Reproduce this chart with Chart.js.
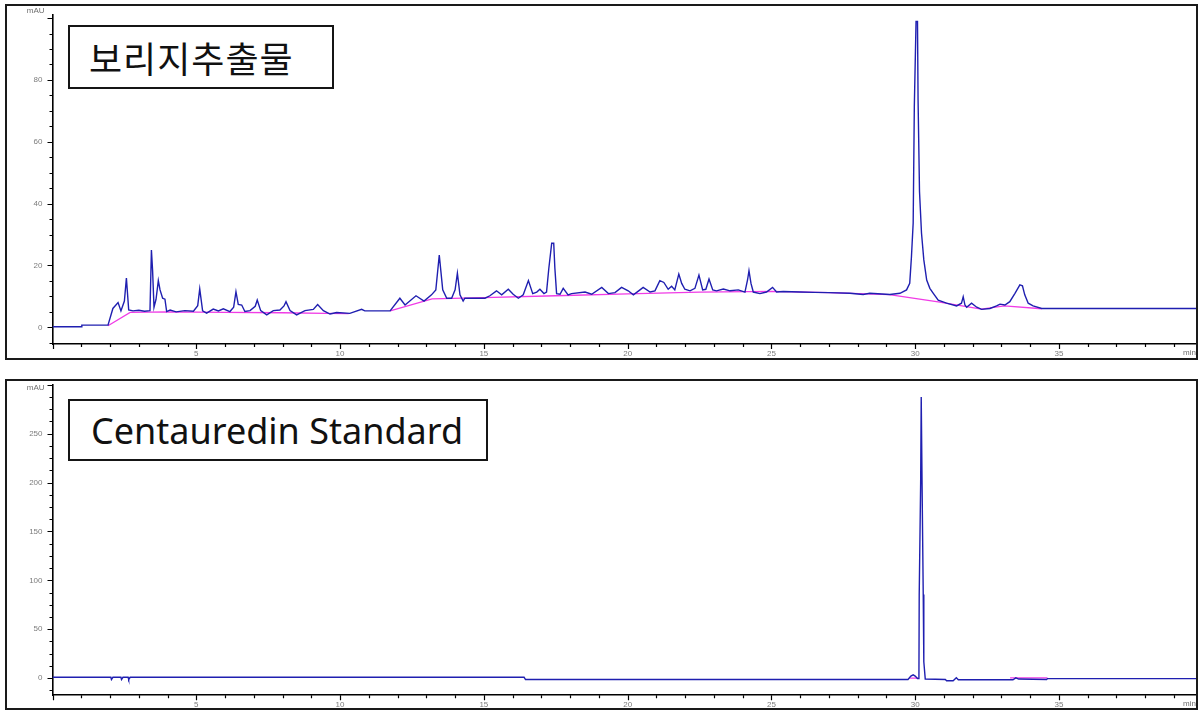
<!DOCTYPE html>
<html lang="ko">
<head>
<meta charset="utf-8">
<title>보리지추출물 / Centauredin Standard</title>
<script src="https://cdn.jsdelivr.net/npm/chart.js@4.4.1/dist/chart.umd.min.js"></script>
<style>
  html, body { margin: 0; padding: 0; background: #fff; }
  #wrap { position: relative; width: 1200px; height: 710px; overflow: hidden; }
  canvas { position: absolute; left: 0; }
  #c1 { top: 0; }
  #c2 { top: 370px; }
  .tag {
    position: absolute; box-sizing: border-box; background: #fff;
    border: 2px solid #151515; color: #111; display: flex; align-items: center;
    white-space: nowrap; z-index: 2;
  }
  #tag1 { left: 68px; top: 25px; width: 266px; height: 64px; padding-left: 19px;
          font: 36px "Noto Sans CJK KR", "Noto Sans", sans-serif; letter-spacing: 1px; }
  #tag2 { left: 68px; top: 399px; width: 420px; height: 62px; padding-left: 21px;
          font: 36px "Noto Sans", "Noto Sans CJK KR", sans-serif; }
</style>
</head>
<body>
<div id="wrap">
  <canvas id="c1" width="1200" height="370"></canvas>
  <canvas id="c2" width="1200" height="340"></canvas>
  <div class="tag" id="tag1">보리지추출물</div>
  <div class="tag" id="tag2">Centauredin Standard</div>
</div>
<script>
// ---- Extract chromatogram (retention time in min, absorbance in mAU) ----
const extractTime = [
  0, 1.0, 1.02, 1.93, 2.1, 2.28, 2.38, 2.5, 2.57, 2.65, 2.8, 3.0, 3.2, 3.39,
  3.44, 3.48, 3.53, 3.6, 3.68, 3.74, 3.83, 3.91, 3.97, 4.09, 4.3, 4.6, 4.9,
  5.05, 5.12, 5.22, 5.36, 5.59, 5.77, 5.94, 6.17, 6.3, 6.38, 6.46, 6.58, 6.69,
  6.87, 7.05, 7.12, 7.24, 7.45, 7.68, 7.91, 8.05, 8.12, 8.26, 8.49, 8.78, 9.07,
  9.22, 9.42, 9.65, 9.88, 10.34, 10.75, 10.86, 11.74, 12.08, 12.26, 12.64,
  12.92, 13.18, 13.33, 13.45, 13.57, 13.71, 13.88, 14.0, 14.08, 14.17, 14.28,
  14.34, 15.04, 15.21, 15.44, 15.62, 15.85, 16.02, 16.2, 16.37, 16.55, 16.7,
  16.84, 16.95, 17.09, 17.18, 17.26, 17.36, 17.43, 17.47, 17.53, 17.65, 17.76,
  17.93, 18.05, 18.52, 18.75, 19.1, 19.33, 19.56, 19.79, 20.02, 20.2, 20.43,
  20.54, 20.78, 20.95, 21.12, 21.26, 21.41, 21.53, 21.64, 21.78, 21.88, 21.99,
  22.17, 22.34, 22.48, 22.61, 22.72, 22.83, 22.96, 23.09, 23.33, 23.56, 23.85,
  24.08, 24.17, 24.22, 24.29, 24.37, 24.6, 24.83, 25.04, 25.18, 25.41, 25.99,
  26.5, 27.0, 27.73, 28.19, 28.42, 29.12, 29.47, 29.7, 29.81, 29.87, 29.93,
  29.97, 30.03, 30.08, 30.1, 30.15, 30.22, 30.3, 30.4, 30.51, 30.63, 30.8,
  31.09, 31.44, 31.61, 31.67, 31.73, 31.79, 31.96, 32.14, 32.31, 32.6, 32.83,
  32.95, 33.12, 33.29, 33.47, 33.64, 33.73, 33.81, 33.93, 34.1, 34.4, 39.8
];
const extractAbs = [
  0.2, 0.2, 0.7, 0.7, 6.1, 8.0, 5.3, 8.5, 15.9, 5.6, 5.3, 5.5, 5.2, 5.4,
  25.0, 18.5, 6.5, 9.0, 15.1, 12.1, 9.4, 9.1, 5.1, 5.6, 5.0, 5.4, 5.2,
  7.0, 12.4, 5.3, 4.6, 5.9, 5.3, 6.0, 5.1, 6.5, 11.5, 7.4, 7.2, 5.1,
  5.4, 6.8, 8.8, 5.4, 4.0, 5.4, 5.6, 6.9, 8.3, 5.4, 4.0, 5.4, 5.8,
  7.4, 5.4, 4.3, 4.8, 4.5, 5.8, 5.3, 5.3, 9.4, 7.2, 10.2,
  8.5, 10.5, 12.1, 23.4, 12.1, 9.4, 9.4, 12.1, 17.5, 10.5, 8.5,
  9.4, 9.4, 10.2, 11.8, 10.5, 12.3, 10.7, 9.4, 10.5, 15.1, 10.9,
  11.4, 12.3, 10.9, 11.4, 19.1, 27.2, 27.2, 19.1, 10.9, 10.7, 12.6,
  10.5, 10.9, 11.4, 10.7, 12.9, 10.9, 11.2, 12.9, 11.8, 10.5, 12.1,
  12.9, 11.4, 11.8, 15.1, 14.5, 12.3, 13.3, 12.1, 17.2, 14.2, 12.3,
  11.8, 12.6, 16.9, 12.1, 12.3, 15.6, 12.1, 11.8, 12.4, 11.8, 12.1,
  11.4, 15.3, 18.3, 14.2, 11.4, 10.9, 11.4, 12.9, 11.4, 11.6, 11.4,
  11.3, 11.2, 11.0, 10.6, 11.0, 10.6, 11.0, 12.1, 14.2, 22.8, 33.7,
  71.4, 98.9, 98.9, 73.6, 43.9, 30.4, 21.8, 15.3, 12.6, 11.0, 8.8,
  7.8, 6.9, 7.8, 9.9, 7.2, 6.5, 7.8, 6.5, 5.8, 6.1, 6.9,
  7.5, 7.2, 8.3, 11.0, 13.7, 13.4, 10.5, 7.8, 6.9, 6.1, 6.1
];
// integration baseline of the extract run (null = no baseline drawn)
const extractBaseTime = [1.93, 2.7, 4.0, 6.0, 8.0, 9.5, 10.3, 10.31, 11.74, 13.2, 15.0, 17.5, 20.0, 22.5, 25.0, 27.0, 29.1, 30.8, 32.3, 33.1, 34.4];
const extractBaseAbs  = [0.5, 4.8, 5.0, 4.8, 4.7, 4.5, 4.4, null, 5.3, 9.2, 9.6, 10.2, 10.8, 11.4, 11.6, 11.2, 10.6, 8.2, 5.9, 6.9, 6.0];

// ---- Centauredin standard chromatogram ----
const standardTime = [
  0, 2.03, 2.05, 2.1, 2.38, 2.4, 2.45, 2.63, 2.65, 2.7, 16.4, 16.45,
  29.75, 29.85, 29.93, 30.0, 30.08, 30.13, 30.14, 30.19, 30.21, 30.24, 30.28,
  30.3, 30.35, 31.05, 31.09, 31.32, 31.43, 31.5, 33.4, 33.5, 33.6, 34.57, 34.6, 39.8
];
const standardAbs = [
  0.8, 0.8, -1.5, 0.8, 0.8, -1.5, 0.8, 0.8, -1.5, 0.8, 0.8, -1.5,
  -1.5, 2.0, 3.3, 2.0, -0.5, -0.5, 85.6, 199.7, 287.6, 196.3, 85.6,
  16.7, -1.0, -1.5, -2.7, -2.7, 0.3, -1.7, -1.7, 0.2, -1.0, -1.5, -0.5, -0.5
];
const standardBaseTime = [29.8, 30.12, 30.125, 33.3, 34.6];
const standardBaseAbs  = [0.0, 0.0, null, 0.3, 0.3];

// ---- axis tick labels ----
const timeTicks = [5, 10, 15, 20, 25, 30, 35];
const extractAbsTicks = [0, 20, 40, 60, 80];
const standardAbsTicks = [0, 50, 100, 150, 200, 250];

const toPoints = (xs, ys) => xs.map((x, i) => ({ x: x, y: ys[i] }));

const TICK_FONT = { family: '"Liberation Sans", Arial, sans-serif', size: 8 };
const TICK_COLOR = '#7c7c7c';

// frame, minor/major tick marks and unit captions
const decor = {
  id: 'decor',
  afterDraw(chart, args, o) {
    const ctx = chart.ctx;
    const xs = chart.scales.x, ys = chart.scales.y;
    const area = chart.chartArea;
    ctx.save();
    // outer frame
    ctx.strokeStyle = '#1a1a1a';
    ctx.lineWidth = 2;
    ctx.strokeRect(o.frame[0], o.frame[1], o.frame[2] - o.frame[0], o.frame[3] - o.frame[1]);
    // tick marks
    ctx.strokeStyle = '#000';
    ctx.lineWidth = 1.2;
    ctx.beginPath();
    for (let t = Math.ceil(xs.min); t <= xs.max; t += 1) {
      const px = Math.round(xs.getPixelForValue(t)) + 0.5;
      const len = (t % 5 === 0) ? 5 : 3;
      ctx.moveTo(px, area.bottom);
      ctx.lineTo(px, area.bottom + len);
    }
    const st = o.yMinor;
    for (let v = Math.ceil(ys.min / st) * st; v <= ys.max + 1e-6; v += st) {
      const py = Math.round(ys.getPixelForValue(v)) + 0.5;
      const len = (Math.abs(v % o.yMajor) < 1e-6) ? 5 : 3;
      ctx.moveTo(area.left, py);
      ctx.lineTo(area.left - len, py);
    }
    ctx.stroke();
    // unit captions
    ctx.fillStyle = '#6e6e6e';
    ctx.font = '8px "Liberation Sans", Arial, sans-serif';
    ctx.textAlign = 'right';
    ctx.textBaseline = 'middle';
    ctx.fillText('mAU', area.left - 8, area.top + o.unitDy);
    ctx.fillText('min', o.frame[2] - 1, area.bottom + 9);
    ctx.restore();
  }
};

function panel(id, trace, base, yMin, yMax, yTicks, pad, xHeight, frame, yMinor, yMajor, unitDy) {
  return new Chart(document.getElementById(id), {
    type: 'line',
    data: {
      datasets: [
        { data: trace, borderColor: '#1f1fb0', borderWidth: 1.4, pointRadius: 0, tension: 0 },
        { data: base, borderColor: '#f03ce6', borderWidth: 1.3, pointRadius: 0, tension: 0, spanGaps: false }
      ]
    },
    options: {
      responsive: false,
      animation: false,
      events: [],
      layout: { padding: pad },
      plugins: {
        legend: { display: false }, tooltip: { enabled: false },
        decor: { frame: frame, yMinor: yMinor, yMajor: yMajor, unitDy: unitDy }
      },
      scales: {
        x: {
          type: 'linear', min: 0, max: 39.8,
          grid: { display: false, drawTicks: false, tickLength: 0 },
          border: { display: true, color: '#000', width: 1.6 },
          afterBuildTicks: s => { s.ticks = timeTicks.map(v => ({ value: v })); },
          afterFit: s => { s.height = xHeight; },
          ticks: { font: TICK_FONT, color: TICK_COLOR, padding: 5, maxRotation: 0, autoSkip: false }
        },
        y: {
          type: 'linear', min: yMin, max: yMax,
          grid: { display: false, drawTicks: false, tickLength: 0 },
          border: { display: true, color: '#000', width: 1.6 },
          afterBuildTicks: s => { s.ticks = yTicks.map(v => ({ value: v })); },
          afterFit: s => { s.width = 40; },
          ticks: { font: TICK_FONT, color: TICK_COLOR, padding: 10, autoSkip: false }
        }
      }
    },
    plugins: [decor]
  });
}

panel('c1', toPoints(extractTime, extractAbs), toPoints(extractBaseTime, extractBaseAbs),
      -5.4, 101, extractAbsTicks, { left: 12.5, top: 15, right: 3, bottom: 11 }, 15,
      [6, 5, 1197, 359], 5, 20, -4);
panel('c2', toPoints(standardTime, standardAbs), toPoints(standardBaseTime, standardBaseAbs),
      -17.5, 300, standardAbsTicks, { left: 12.5, top: 10, right: 3, bottom: 0.5 }, 14,
      [6, 10, 1197, 339], 12.5, 50, 3);
</script>
</body>
</html>
